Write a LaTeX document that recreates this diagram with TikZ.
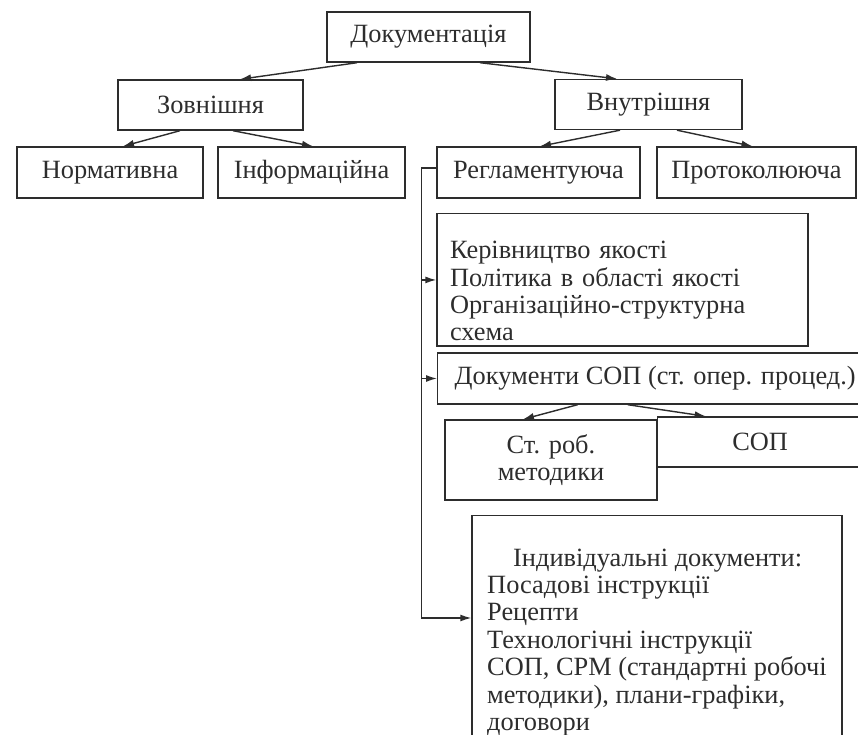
\documentclass[tikz,border=0pt]{standalone}
\usepackage{fontspec}
\setmainfont{Liberation Serif}
\usetikzlibrary{arrows.meta,calc,positioning}
\definecolor{docgray}{RGB}{45,45,45}

\begin{document}
\begin{tikzpicture}[x=1cm,y=1cm,font=\fontsize{15}{15.6}\selectfont,
    box/.style={draw=docgray,line width=0.8pt,text=docgray,inner sep=2pt,minimum height=1.0cm},
    arr/.style={-{Latex[length=2.2mm,width=1.4mm]},line width=0.8pt,docgray}]
    \useasboundingbox (0,0) rectangle (17.16,-14.7);
    % top levels
    \node[box,minimum width=4.06cm] (doc) at (8.57,-0.74) {Документація};
    \node[box,minimum width=3.70cm] (zov) at (4.21,-2.10) {Зовнішня};
    \node[box,minimum width=3.74cm] (vnu) at (12.97,-2.09) {Внутрішня};
    \node[box,minimum width=3.72cm,minimum height=1.02cm] (norm) at (2.20,-3.45) {Нормативна};
    \node[box,minimum width=3.74cm,minimum height=1.02cm] (inf) at (6.23,-3.45) {Інформаційна};
    \node[box,minimum width=4.06cm,minimum height=1.02cm] (reg) at (10.77,-3.45) {Регламентуюча};
    \node[box,minimum width=3.98cm,minimum height=1.02cm] (prot) at (15.13,-3.45) {Протоколююча};
    % regulating documents
    \node[box,anchor=north,minimum width=7.42cm,inner xsep=0.26cm,inner ysep=0.1cm,text width=6.9cm,align=left] (ker) at (12.45,-4.26)
        {\rule{0pt}{0.8cm}Керівництво якості\\Політика в області якості\\Організаційно-структурна\\схема};
    \node[box,anchor=west,minimum width=8.7cm,minimum height=1.02cm] (docs) at (8.74,-7.57) {Документи СОП (ст. опер. процед.)};
    \node[box,minimum width=4.24cm,minimum height=1.6cm,align=center] (strob) at (11.02,-9.20) {Ст. роб.\\методики};
    \node[box,anchor=west,minimum width=4.1cm] (sop) at (13.14,-8.84) {СОП};
    \node[box,anchor=north,minimum width=7.4cm,inner ysep=0.66cm,align=left] (ind) at (13.14,-10.30)
        {\hspace*{0.52cm}Індивідуальні документи:\\Посадові інструкції\\Рецепти\\Технологічні інструкції\\СОП, СРМ (стандартні робочі\\методики), плани-графіки,\\договори};
    \coordinate (indin) at ([yshift=-2.06cm]ind.north west);
    % arrows
    \draw[arr] ([xshift=-1.43cm]doc.south) -- ([xshift=0.59cm]zov.north);
    \draw[arr] ([xshift=1.03cm]doc.south) -- ([xshift=-0.63cm]vnu.north);
    \draw[arr] ([xshift=-0.61cm]zov.south) -- ([xshift=0.26cm]norm.north);
    \draw[arr] ([xshift=0.45cm]zov.south) -- ([xshift=0.03cm]inf.north);
    \draw[arr] ([xshift=-0.57cm]vnu.south) -- ([xshift=0.03cm]reg.north);
    \draw[arr] ([xshift=0.57cm]vnu.south) -- ([xshift=-0.08cm]prot.north);
    \draw[arr] ([xshift=-1.55cm]$(docs.south west)!0.5!(docs.south east)$) -- ([xshift=-0.56cm]strob.north);
    \draw[arr] ([xshift=-0.55cm]$(docs.south west)!0.5!(docs.south east)$) -- ([xshift=-1.09cm]sop.north);
    \draw[arr] ([yshift=0.09cm]reg.west) -- ++(-0.3,0) coordinate (bus) |- (indin);
    \draw[arr] (bus |- ker.west) -- (ker.west);
    \draw[arr] (bus |- docs.west) -- (docs.west);
\end{tikzpicture}
\end{document}
